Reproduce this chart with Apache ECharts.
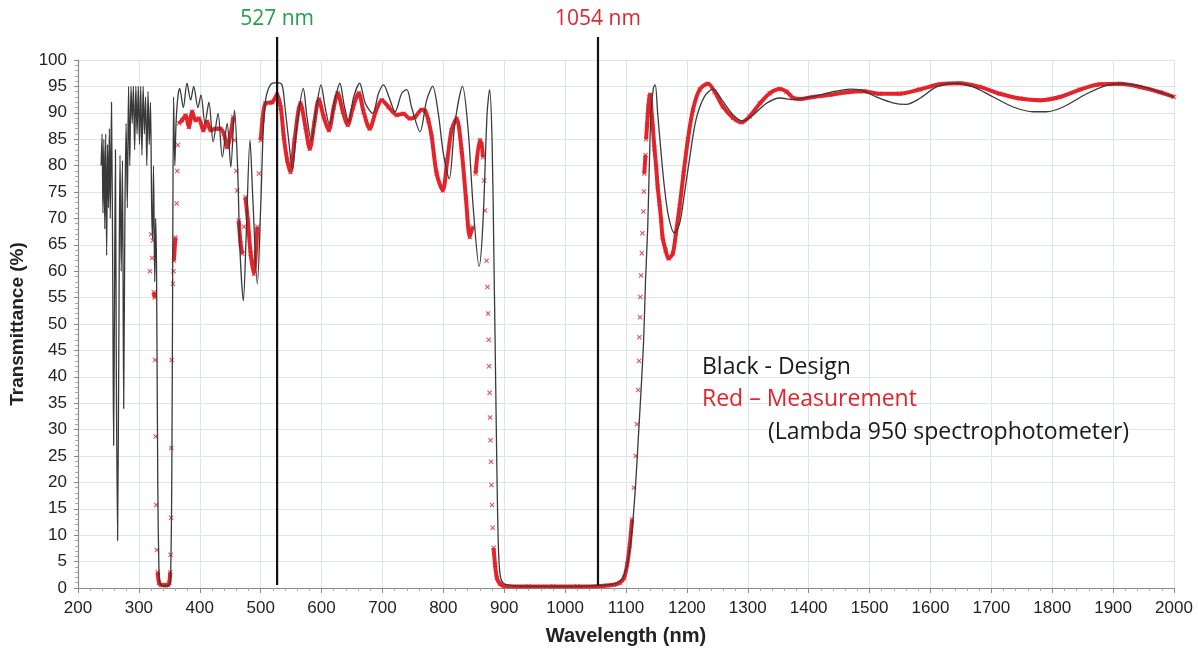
<!DOCTYPE html>
<html>
<head>
<meta charset="utf-8">
<title>Transmittance - design vs measurement</title>
<script src="https://cdn.jsdelivr.net/npm/echarts@6/dist/echarts.min.js"></script>
<style>
  html, body { margin: 0; padding: 0; background: #fff; }
  #chart { width: 1198px; height: 654px; }
</style>
</head>
<body>
<div id="chart"></div>
<script>
(function () {
  'use strict';

  // design curve (black), [wavelength nm, transmittance %]
  var designCurve = [
    [238, 80], [239.5, 86], [241, 71], [242.5, 85], [244, 68], [245.5, 86], [247, 63], [248.5, 84],
    [250, 72], [251.5, 87], [253, 70], [255, 92], [257, 60], [258.5, 27], [260, 55], [261.5, 83],
    [263, 40], [265, 9], [267, 45], [269, 82], [271, 60], [273, 81], [275, 34], [277, 70],
    [279, 88], [281, 72], [283, 95], [285, 80], [287, 95], [289, 88], [291, 95], [293, 83],
    [295, 95], [297, 86], [299, 95], [301, 84], [303, 95], [305, 82], [307, 95], [309, 86],
    [311, 93], [313, 80], [315, 94], [317, 84], [319, 92], [321, 72], [322.5, 66], [324, 80],
    [326, 58], [327.5, 70], [329, 60], [331, 20], [333, 3], [335, 0.8], [340, 0.4], [345, 0.4],
    [350, 0.6], [352, 2], [354, 20], [355.5, 60], [357, 93], [359, 80], [361, 88], [364, 93],
    [367, 94.6], [373, 91], [379, 95.6], [385, 92.4], [390, 95], [397, 91], [402, 93.4],
    [408.5, 88], [415, 92], [422, 84.5], [430, 89.9], [437, 81.6], [445, 88], [451, 79.7],
    [457, 90.5], [462, 80], [466, 64], [471.5, 54.4], [476, 66], [482.5, 84.8], [487, 74],
    [494.5, 57.6], [500, 72], [504, 86], [508, 92.4], [516, 95.3], [527, 95.7], [535, 95.3],
    [540, 91], [546, 84.8], [552, 79.4], [560, 88], [570, 94.6], [576, 89.2], [583, 84.8],
    [591.6, 91], [599, 95.3], [606, 91], [613, 87.7], [623, 93], [630, 95.6], [637, 91.5],
    [644.5, 88.3], [652.7, 93], [662.5, 95.6], [671.8, 91.8], [684, 89.9], [693.6, 93.7],
    [701.7, 95.3], [711.6, 92.7], [720.8, 90.2], [731.7, 93.7], [740, 94.4], [748, 91],
    [761.7, 86.4], [772.6, 92.4], [782.4, 95], [791.7, 89.9], [800, 82.3], [809.7, 77.5],
    [819, 88], [831.5, 95], [840.8, 86.7], [849, 72.2], [858.8, 60.9], [865, 69], [871.9, 89.9],
    [876, 94.4], [880, 85], [883, 63], [885, 47], [887, 30], [889, 15], [891, 6], [894, 2],
    [900, 0.8], [920, 0.4], [960, 0.3], [1000, 0.3], [1040, 0.4], [1070, 0.6], [1085, 1],
    [1095, 2], [1103, 5], [1110, 11], [1116, 20], [1121, 30], [1125, 38], [1129, 47], [1132, 58],
    [1135.7, 68.4], [1138.5, 81], [1141, 89.9], [1145, 94.7], [1148, 95.3], [1152, 89.9],
    [1157.7, 82.3], [1163, 76], [1170, 70.3], [1179.7, 67.2], [1188, 69], [1196, 74.7],
    [1204, 81], [1215, 88.7], [1229, 93.1], [1243, 94.5], [1259, 92.2], [1276, 89.6],
    [1292, 88.4], [1309, 89.6], [1330.8, 91.8], [1352.7, 92.8], [1374.7, 92.5], [1407.7, 93.1],
    [1440.7, 94], [1468, 94.5], [1483.5, 94.4], [1511, 93], [1538, 91.9], [1560, 91.6],
    [1582, 92.7], [1610, 94.9], [1642.6, 95.6], [1670, 94.9], [1703, 93], [1736, 91.1],
    [1769, 90.2], [1790.7, 90.2], [1818, 91.1], [1856.6, 93.6], [1889.5, 95.2], [1917, 95.5],
    [1950, 94.9], [1977, 93.9], [2000, 93]
  ];

  // measurement (red markers)
  var measuredCurve = [
    [318, 60], [320, 67], [321.5, 62.5], [323, 65.8], [324.5, 56], [326, 55], [326.5, 43.2],
    [327.5, 28.7], [328.5, 15.7], [329.5, 7.2], [331, 3], [333, 1], [336, 0.6], [340, 0.5],
    [344, 0.5], [348, 0.6], [350, 1], [351.5, 3], [352, 6.3], [352.8, 13.3], [353.3, 26.5],
    [353.8, 43.2], [356, 57.6], [357, 60], [357.5, 62], [360, 66.4], [362, 72.8], [363, 79],
    [364, 83.9], [365.8, 88], [371, 88.6], [376.7, 89.5], [382, 87.3], [387.7, 90.2], [393, 88.6],
    [398.6, 88.9], [405.8, 86.7], [412, 88.3], [418, 86.7], [426, 87], [434, 87], [439.7, 86],
    [445, 83.5], [450.7, 86], [455, 89.2], [457, 84.8], [460, 79], [461.6, 75.3], [464, 69.6],
    [467, 65.2], [470, 63.3], [472.6, 68.4], [475, 74], [479, 69.6], [483.6, 63.3], [489, 59.5],
    [494.5, 68.4], [497, 78.5], [500, 84.8], [503, 88.6], [508, 91.8], [519, 92], [527, 93.4],
    [533, 91], [538, 85.4], [543.6, 81], [549, 78.8], [555.6, 84.8], [565.4, 91.8], [573.6, 87.3],
    [580.7, 83.2], [588, 88], [595.4, 92.5], [603.6, 89.2], [611.8, 86.7], [620, 91], [626.5, 93.7],
    [635, 90.2], [643, 87.7], [651.6, 91], [661, 93.7], [669, 90.2], [679, 87], [689.8, 90.5],
    [699, 92.4], [710, 91.1], [723.6, 89.6], [734.5, 89.8], [745, 88.9], [753.5, 89.2],
    [764.5, 90.6], [770, 90.4], [775.4, 88.6], [781, 85.4], [789, 78.5], [799, 75.3],
    [806.5, 81], [813.5, 86.7], [821.7, 88.9], [830, 82.9], [837, 74], [843.5, 66.5], [848, 68.4],
    [853, 78.5], [860, 84.8], [863, 84], [865, 81.6], [867, 77.2], [868.5, 71.5], [871, 62],
    [872.4, 57], [873.5, 52], [874.6, 47], [875.2, 42], [876, 37], [876.8, 32.3], [877.5, 28],
    [878.3, 23.9], [879, 19.5], [880, 15.7], [881, 11.4], [882.5, 7.6], [885, 4.4], [888, 1.9],
    [893, 0.8], [900, 0.4], [940, 0.3], [980, 0.3], [1020, 0.3], [1060, 0.4], [1080, 0.6],
    [1090, 1], [1097, 2], [1102, 4.5], [1106, 8], [1110, 13], [1113, 19], [1116, 25], [1118, 31],
    [1120, 37.5], [1121.5, 43], [1122, 47.5], [1123, 51.3], [1123.5, 55.1], [1124.7, 59.2],
    [1126, 63.4], [1127, 67.2], [1128.6, 71.3], [1129.3, 75.1], [1130, 78.5], [1132, 82],
    [1133, 85], [1134.6, 87.7], [1135.7, 89.6], [1136.8, 91.2], [1138.5, 93], [1139.6, 93.4],
    [1141, 91.8], [1144, 87.4], [1146.7, 83.3], [1149.5, 79.8], [1152, 76], [1155, 72.8],
    [1157.7, 69.7], [1160, 66.5], [1165, 64], [1170, 62.4], [1177, 63.4], [1182, 67.2],
    [1188, 72.2], [1194.5, 78.5], [1201.6, 84.9], [1210, 90.6], [1221, 94.4], [1234.6, 95.5],
    [1245.6, 94], [1259, 91.2], [1276, 89], [1289.6, 88.2], [1303, 89.3], [1320, 91.8],
    [1336, 93.7], [1352.7, 94.5], [1363.7, 94], [1374.7, 92.8], [1385.7, 92.6], [1407.7, 93],
    [1435, 93.4], [1462.6, 93.9], [1490, 94.1], [1516, 93.6], [1549, 93.6], [1582, 94.4],
    [1615, 95.4], [1648, 95.6], [1681, 94.9], [1714, 93.6], [1747, 92.7], [1780, 92.4],
    [1812.7, 93], [1845.6, 94.4], [1878.5, 95.4], [1911.5, 95.5], [1944.4, 94.9], [1977, 93.9],
    [2000, 93]
  ];

  var laserLines = [527, 1054];
  var laserLabels = ['527 nm', '1054 nm'];
  var laserColors = ['#22a04b', '#dc2830'];

  var noteLines = ['Black - Design', 'Red \u2013 Measurement', '(Lambda 950 spectrophotometer)'];
  var noteColors = ['#1a1a1a', '#e3242b', '#1a1a1a'];

  var RED = '#e3242b';
  var CROSS = 'path://M0,1.5L1.5,0L5,3.5L8.5,0L10,1.5L6.5,5L10,8.5L8.5,10L5,6.5L1.5,10L0,8.5L3.5,5Z';

  // break the red band where the samples get far apart (steep edges show loose markers)
  function bandWithGaps(points, maxSlope) {
    var out = [];
    for (var i = 0; i < points.length; i++) {
      if (i > 0) {
        var dw = points[i][0] - points[i - 1][0];
        var dt = Math.abs(points[i][1] - points[i - 1][1]);
        if (dt / dw > maxSlope) out.push([(points[i][0] + points[i - 1][0]) / 2, null]);
      }
      out.push(points[i]);
    }
    return out;
  }

  var chart = echarts.init(document.getElementById('chart'), null, { renderer: 'canvas' });

  var axisFont = 'Liberation Sans, Arial, sans-serif';
  var noteFont = 'Open Sans, Noto Sans, sans-serif';
  var plain = function (v) { return String(v); };

  chart.setOption({
    animation: false,
    backgroundColor: '#fff',
    grid: { left: 78, right: 24, top: 60, bottom: 66 },
    xAxis: {
      type: 'value',
      min: 200,
      max: 2000,
      interval: 100,
      name: 'Wavelength (nm)',
      nameLocation: 'middle',
      nameGap: 38,
      nameTextStyle: { fontFamily: axisFont, fontSize: 20, fontWeight: 'bold', color: '#222' },
      axisLine: { lineStyle: { color: '#8a8a8a', width: 1.2 } },
      axisTick: { length: 5, lineStyle: { color: '#8a8a8a' } },
      minorTick: { show: true, splitNumber: 5, length: 3, lineStyle: { color: '#aaa' } },
      axisLabel: { fontFamily: axisFont, fontSize: 17, color: '#222', margin: 12, formatter: plain },
      splitLine: { show: true, lineStyle: { color: '#dfe4e6', width: 1 } }
    },
    yAxis: {
      type: 'value',
      min: 0,
      max: 100,
      interval: 5,
      name: 'Transmittance (%)',
      nameLocation: 'middle',
      nameGap: 48,
      nameTextStyle: { fontFamily: axisFont, fontSize: 19, fontWeight: 'bold', color: '#222' },
      axisLine: { show: true, lineStyle: { color: '#8a8a8a', width: 1.2 } },
      axisTick: { show: true, length: 4, lineStyle: { color: '#8a8a8a' } },
      minorTick: { show: true, splitNumber: 5, length: 3, lineStyle: { color: '#aaa' } },
      axisLabel: { fontFamily: axisFont, fontSize: 17, color: '#222', margin: 11, formatter: plain },
      splitLine: { show: true, lineStyle: { color: '#dfe4e6', width: 1 } }
    },
    series: [
      {
        name: 'Measurement band',
        type: 'line',
        data: bandWithGaps(measuredCurve, 1.8),
        showSymbol: false,
        smooth: 0.3,
        connectNulls: false,
        lineStyle: { color: RED, width: 4 },
        z: 2
      },
      {
        name: 'Measurement',
        type: 'scatter',
        data: measuredCurve,
        symbol: CROSS,
        symbolSize: 5,
        itemStyle: { color: RED },
        z: 3
      },
      {
        name: 'Design',
        type: 'line',
        data: designCurve,
        showSymbol: false,
        smooth: 0.3,
        lineStyle: { color: '#3a3a3a', width: 1.3 },
        z: 4
      }
    ]
  });

  // laser wavelength markers, positioned through the axes
  var yTop = chart.convertToPixel({ yAxisIndex: 0 }, 100);
  var yBottom = chart.convertToPixel({ yAxisIndex: 0 }, 0);
  var graphics = [];
  laserLines.forEach(function (wl, i) {
    var x = chart.convertToPixel({ xAxisIndex: 0 }, wl);
    graphics.push({
      type: 'line',
      shape: { x1: x, y1: yTop - 23, x2: x, y2: yBottom - 3 },
      style: { stroke: '#111', lineWidth: 2.2 },
      z: 10
    });
    graphics.push({
      type: 'text',
      x: x,
      y: 19,
      style: {
        text: laserLabels[i],
        fill: laserColors[i],
        font: '21px ' + noteFont,
        textAlign: 'center',
        textVerticalAlign: 'middle'
      },
      z: 10
    });
  });

  var noteX = [702, 702, 768];
  var noteY = [367, 399, 432];
  noteLines.forEach(function (line, i) {
    graphics.push({
      type: 'text',
      x: noteX[i],
      y: noteY[i],
      style: {
        text: line,
        fill: noteColors[i],
        font: '23px ' + noteFont,
        textAlign: 'left',
        textVerticalAlign: 'middle'
      },
      z: 10
    });
  });

  chart.setOption({ graphic: graphics });

  window.addEventListener('resize', function () {
    chart && chart.resize();
  });
})();
</script>
</body>
</html>
